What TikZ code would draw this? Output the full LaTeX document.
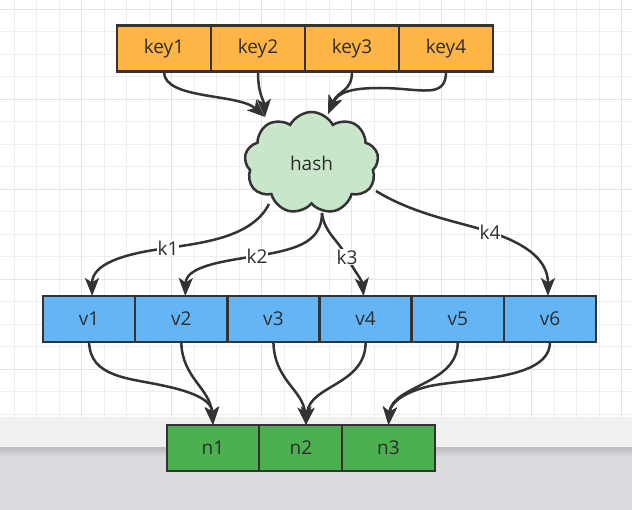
\documentclass[tikz,border=0pt]{standalone}
\usepackage{fontspec}
\setmainfont{Open Sans}
\usetikzlibrary{arrows.meta,shapes.symbols,calc}
\definecolor{stroke}{RGB}{51,51,51}
\definecolor{txt}{RGB}{45,45,45}
\definecolor{keyfill}{RGB}{255,181,70}
\definecolor{vfill}{RGB}{100,181,246}
\definecolor{nfill}{RGB}{76,175,80}
\definecolor{cloudfill}{RGB}{200,230,201}
\definecolor{gridminor}{RGB}{238,238,238}
\definecolor{gridmajor}{RGB}{228,228,228}
\definecolor{bandlight}{RGB}{240,240,240}
\definecolor{banddark}{RGB}{219,220,223}
\definecolor{bandshadow}{RGB}{192,192,196}
\pgfdeclarelayer{gridlayer}
\pgfdeclarelayer{edgelayer}
\pgfsetlayers{gridlayer,edgelayer,main}
\begin{document}
\begin{tikzpicture}[x=1pt,y=-1pt,
  box/.style={draw=stroke, line width=2.5pt, minimum height=46pt, inner sep=0pt, outer sep=0pt,
    font=\fontsize{19}{21}\selectfont, text=txt},
  keybox/.style={box, fill=keyfill, minimum width=94pt},
  vbox/.style={box, fill=vfill, minimum width=92.17pt},
  nbox/.style={box, fill=nfill},
  conn/.style={draw=stroke, line width=2.5pt, -{Stealth[length=18pt,width=14pt,inset=4.5pt]}},
  lbl/.style={fill=white, inner sep=1pt, font=\fontsize{19}{21}\selectfont, text=txt},
  minorline/.style={draw=gridminor, line width=1pt},
  majorline/.style={draw=gridmajor, line width=1pt}
]
\useasboundingbox (0,0) rectangle (632,510);

\begin{pgfonlayer}{gridlayer}
  \fill[white] (0,0) rectangle (632,417);
  \foreach \i in {0,...,27} { \draw[minorline] ({14.2+22.5*\i},0) -- ({14.2+22.5*\i},417); }
  \foreach \i in {0,...,18} { \draw[minorline] (0,{9.3+22.5*\i}) -- (632,{9.3+22.5*\i}); }
  \foreach \i in {0,...,6} { \draw[majorline] ({81.7+90*\i},0) -- ({81.7+90*\i},417); }
  \foreach \i in {0,...,4} { \draw[majorline] (0,{9.3+90*\i}) -- (632,{9.3+90*\i}); }
  \fill[bandlight] (0,417) rectangle (632,448);
  \fill[banddark] (0,448) rectangle (632,510);
  \shade[top color=bandshadow, bottom color=banddark] (0,448) rectangle (632,457);
\end{pgfonlayer}

% key row
\node[keybox] (key1) at (164,48.75) {key1};
\node[keybox] (key2) at (258,48.75) {key2};
\node[keybox] (key3) at (352,48.75) {key3};
\node[keybox] (key4) at (446,48.75) {key4};

% hash cloud
\node[cloud, cloud puffs=9, cloud puff arc=125, aspect=1.3, draw=stroke, fill=cloudfill,
  line width=2.5pt, minimum width=134pt, minimum height=102pt, inner sep=0pt,
  font=\fontsize{19}{21}\selectfont, text=txt] (hash) at (311.5,163) {hash};

% v row
\node[vbox] (v1) at (89.09,319) {v1};
\node[vbox] (v2) at (181.26,319) {v2};
\node[vbox] (v3) at (273.43,319) {v3};
\node[vbox] (v4) at (365.60,319) {v4};
\node[vbox] (v5) at (457.77,319) {v5};
\node[vbox] (v6) at (549.94,319) {v6};

% n row
\node[nbox, minimum width=92pt] (n1) at (213,448) {n1};
\node[nbox, minimum width=84pt] (n2) at (301,448) {n2};
\node[nbox, minimum width=93pt] (n3) at (388.5,448) {n3};

\coordinate (hin1) at (265,117);
\coordinate (hin2) at (328,114);
\coordinate (hout1) at (269,204);
\coordinate (hout2) at (322,213);
\coordinate (hout4) at (376,191);

\begin{pgfonlayer}{edgelayer}
  % keys to hash
  \draw[conn] (key1.south) .. controls (164,100) and (238,93) .. (hin1);
  \draw[conn] (key2.south) .. controls (258,95) and (264,100) .. (hin1);
  \draw[conn] (key3.south) .. controls (352,92) and (338,90) .. (hin2);
  \draw[conn] (key4.south) .. controls (446,100) and (420,88) .. (380,88)
                           .. controls (352,88) and (338,92) .. (hin2);
  % hash to v
  \draw[conn] (hout1) .. controls (252,238) and (200,243) .. (168,248) node[lbl] (k1) {k1}
                      .. controls (120,254) and (92,265) .. ($(v1.north)+(3,0)$);
  \draw[conn] (hout2) .. controls (322,245) and (290,250) .. (257,256) node[lbl] (k2) {k2}
                      .. controls (215,262) and (186,268) .. ($(v2.north)+(4,0)$);
  \draw[conn] (hout2) .. controls (324,232) and (338,240) .. (347,257) node[lbl] (k3) {k3}
                      .. controls (355,272) and (362,280) .. ($(v4.north)+(-2,0)$);
  \draw[conn] (hout4) .. controls (415,215) and (460,222) .. (490,232) node[lbl] (k4) {k4}
                      .. controls (530,245) and (548,262) .. ($(v6.north)+(-2,0)$);
  % v to n
  \draw[conn] (v1.south) .. controls (90,378) and (130,378) .. (165,386)
                         .. controls (198,393) and (212,402) .. (n1.north);
  \draw[conn] (v2.south) .. controls (182,378) and (210,388) .. (n1.north);
  \draw[conn] (v3.south) .. controls (274,380) and (303,390) .. ($(n2.north)+(5,0)$);
  \draw[conn] (v4.south) .. controls (366,385) and (310,385) .. ($(n2.north)+(5,0)$);
  \draw[conn] (v5.south) .. controls (458,385) and (392,385) .. (n3.north);
  \draw[conn] (v6.south) .. controls (550,380) and (470,378) .. (430,386)
                         .. controls (400,393) and (390,405) .. (n3.north);
\end{pgfonlayer}
\end{tikzpicture}
\end{document}
